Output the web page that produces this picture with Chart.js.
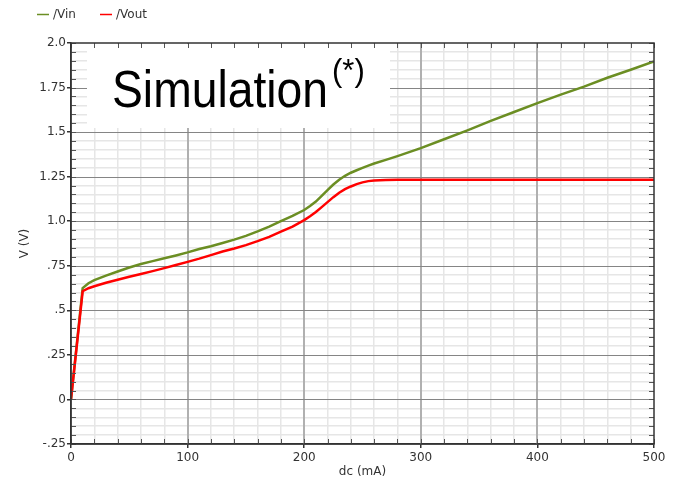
<!DOCTYPE html>
<html><head><meta charset="utf-8">
<script src="https://cdn.jsdelivr.net/npm/chart.js@4/dist/chart.umd.min.js"></script>
<style>html,body{margin:0;padding:0;background:#fff;}canvas{display:block;}</style>
</head><body>
<canvas id="c" width="679" height="482"></canvas>
<script>
// ---- data ----
const dcValues   = [0, 10, 15, 20, 30, 40, 50, 60, 70, 80, 90, 100, 110, 120, 130, 140, 150, 160, 170, 180, 190, 200, 205, 210, 215, 220, 225, 230, 235, 240, 245, 250, 255, 260, 270, 280, 300, 320, 340, 360, 380, 400, 420, 440, 460, 480, 500];
const vinValues  = [0, 0.625, 0.652, 0.67, 0.695, 0.718, 0.74, 0.76, 0.776, 0.792, 0.808, 0.825, 0.844, 0.86, 0.878, 0.897, 0.918, 0.943, 0.97, 1.0, 1.03, 1.063, 1.085, 1.11, 1.142, 1.175, 1.206, 1.233, 1.255, 1.272, 1.286, 1.299, 1.312, 1.324, 1.344, 1.365, 1.41, 1.46, 1.51, 1.563, 1.613, 1.663, 1.71, 1.755, 1.805, 1.85, 1.897];
const voutValues = [0, 0.607, 0.624, 0.635, 0.655, 0.672, 0.688, 0.704, 0.72, 0.737, 0.754, 0.772, 0.79, 0.81, 0.83, 0.847, 0.866, 0.888, 0.912, 0.942, 0.97, 1.006, 1.028, 1.052, 1.079, 1.107, 1.135, 1.16, 1.18, 1.195, 1.208, 1.218, 1.225, 1.229, 1.231, 1.233, 1.233, 1.233, 1.233, 1.233, 1.233, 1.233, 1.233, 1.233, 1.233, 1.233, 1.233];
const seriesNames = ['/Vin', '/Vout'];
const seriesColors = ['#6b8e23', '#ff0000'];
const xTickValues = [0, 100, 200, 300, 400, 500];
const xTickLabels = ['0', '100', '200', '300', '400', '500'];
const yTickValues = [-0.25, 0, 0.25, 0.5, 0.75, 1.0, 1.25, 1.5, 1.75, 2.0];
const yTickLabels = ['-.25', '0', '.25', '.5', '.75', '1.0', '1.25', '1.5', '1.75', '2.0'];
const xTitle = 'dc (mA)';
const yTitle = 'V (V)';
const noteText = 'Simulation';
const noteSup = '(*)';

const FONT = 'DejaVu Sans';
function findIdx(arr, v) { for (let i = 0; i < arr.length; i++) if (Math.abs(arr[i] - v) < 1e-6) return i; return -1; }
const isXMajor = v => findIdx(xTickValues, v) >= 0;
const isYMajor = v => findIdx(yTickValues, v) >= 0;

const framePlugin = {
  id: 'frame',
  beforeDatasetsDraw(chart) {
    const {ctx, chartArea: a, scales: {x, y}} = chart;
    ctx.save();
    // major grid lines on top of the minor ones
    ctx.beginPath();
    ctx.strokeStyle = '#b0b0b0';
    ctx.lineWidth = 2;
    xTickValues.forEach(v => {
      const px = Math.round(x.getPixelForValue(v));
      if (px <= a.left + 1 || px >= a.right - 1) return;
      ctx.moveTo(px, a.top); ctx.lineTo(px, a.bottom);
    });
    ctx.stroke();
    ctx.beginPath();
    ctx.strokeStyle = '#858585';
    ctx.lineWidth = 1.2;
    yTickValues.forEach(v => {
      const py = Math.round(y.getPixelForValue(v)) + 0.5;
      if (py <= a.top + 1 || py >= a.bottom - 1) return;
      ctx.moveTo(a.left, py); ctx.lineTo(a.right, py);
    });
    ctx.stroke();
    // white note box
    ctx.fillStyle = '#ffffff';
    ctx.fillRect(a.left + 16, a.top + 1, 303, 84);
    ctx.fillStyle = '#000000';
    ctx.textBaseline = 'alphabetic';
    ctx.textAlign = 'left';
    ctx.save();
    ctx.translate(a.left + 41, a.top + 64);
    ctx.scale(0.89, 1);
    ctx.font = '52px "Liberation Sans", Arial, sans-serif';
    ctx.fillText(noteText, 0, 0);
    ctx.restore();
    ctx.font = '31px "Liberation Sans", Arial, sans-serif';
    ctx.fillText(noteSup, a.left + 261, a.top + 38);
    ctx.restore();
  },
  afterDraw(chart) {
    const {ctx, chartArea: a, scales: {x, y}} = chart;
    ctx.save();
    ctx.strokeStyle = '#555';
    ctx.lineWidth = 1;
    ctx.beginPath();
    x.ticks.forEach(t => {
      const px = Math.round(x.getPixelForValue(t.value)) + 0.5;
      ctx.moveTo(px, a.bottom); ctx.lineTo(px, a.bottom - 5);
      ctx.moveTo(px, a.top); ctx.lineTo(px, a.top + 5);
    });
    y.ticks.forEach(t => {
      const py = Math.round(y.getPixelForValue(t.value)) + 0.5;
      ctx.moveTo(a.left, py); ctx.lineTo(a.left + 5, py);
      ctx.moveTo(a.right, py); ctx.lineTo(a.right - 5, py);
    });
    ctx.stroke();
    ctx.strokeStyle = '#333';
    ctx.lineWidth = 1.5;
    ctx.strokeRect(a.left, a.top, a.right - a.left, a.bottom - a.top);
    // legend
    ctx.font = '12px "' + FONT + '"';
    ctx.textBaseline = 'middle';
    ctx.textAlign = 'left';
    let lx = 37;
    seriesNames.forEach((name, i) => {
      ctx.strokeStyle = seriesColors[i];
      ctx.lineWidth = 1.5;
      ctx.beginPath(); ctx.moveTo(lx, 14.5); ctx.lineTo(lx + 12, 14.5); ctx.stroke();
      ctx.fillStyle = '#333';
      ctx.fillText(name, lx + 16, 15);
      lx = 100;
    });
    ctx.restore();
  }
};

new Chart(document.getElementById('c'), {
  type: 'line',
  data: {
    datasets: [
      { label: seriesNames[0], data: dcValues.map((d, i) => ({x: d, y: vinValues[i]})), borderColor: seriesColors[0], borderWidth: 2.5, pointRadius: 0, tension: 0, order: 2 },
      { label: seriesNames[1], data: dcValues.map((d, i) => ({x: d, y: voutValues[i]})), borderColor: seriesColors[1], borderWidth: 2.5, pointRadius: 0, tension: 0, order: 1 }
    ]
  },
  options: {
    responsive: false,
    animation: false,
    devicePixelRatio: 1,
    layout: { padding: { top: 43, right: 25, left: 0, bottom: 0 } },
    plugins: { legend: { display: false }, tooltip: { enabled: false } },
    scales: {
      x: {
        type: 'linear', min: 0, max: 500,
        afterFit: s => { s.height = 38; },
        ticks: {
          stepSize: 20, autoSkip: false, maxRotation: 0, padding: 3,
          color: '#333', font: { family: FONT, size: 12 },
          callback: v => { const i = findIdx(xTickValues, v); return i >= 0 ? xTickLabels[i] : ''; }
        },
        grid: {
          color: c => isXMajor(c.tick.value) ? 'rgba(0,0,0,0)' : '#e6e6e6',
          lineWidth: 1.5,
          tickColor: c => isXMajor(c.tick.value) ? '#333' : 'rgba(0,0,0,0)',
          tickLength: 4, drawTicks: true
        },
        border: { display: true, color: '#333', width: 1.5 },
        title: { display: true, text: xTitle, color: '#333', font: { family: FONT, size: 12 }, padding: { top: 0, bottom: 3 } }
      },
      y: {
        type: 'linear', min: -0.25, max: 2.0,
        afterFit: s => { s.width = 71; },
        ticks: {
          stepSize: 0.05, autoSkip: false, padding: 1,
          color: '#333', font: { family: FONT, size: 12 },
          callback: v => { const i = findIdx(yTickValues, v); return i >= 0 ? yTickLabels[i] : ''; }
        },
        grid: {
          color: c => isYMajor(c.tick.value) ? 'rgba(0,0,0,0)' : '#e6e6e6',
          lineWidth: 1.5,
          tickColor: c => isYMajor(c.tick.value) ? '#333' : 'rgba(0,0,0,0)',
          tickLength: 4, drawTicks: true
        },
        border: { display: true, color: '#333', width: 1.5 },
        title: { display: true, text: yTitle, color: '#333', font: { family: FONT, size: 12 }, padding: { top: 18, bottom: 0 } }
      }
    }
  },
  plugins: [framePlugin]
});
</script>
</body></html>
